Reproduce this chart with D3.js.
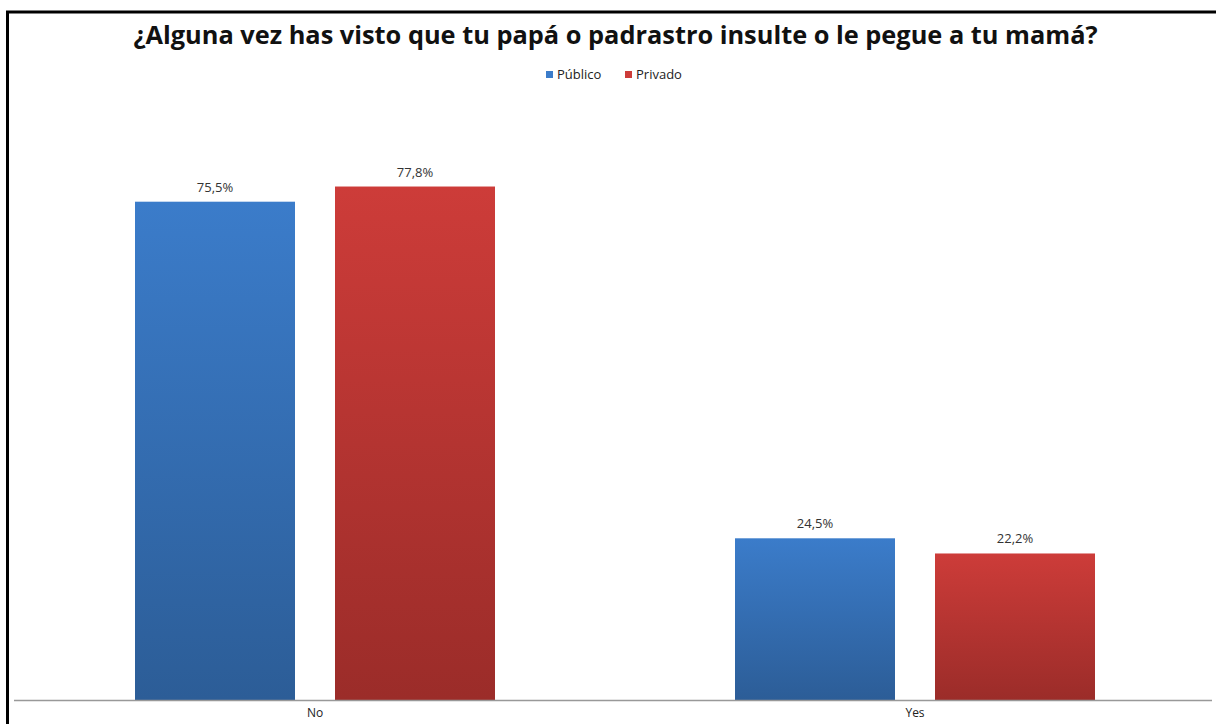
<!DOCTYPE html>
<html lang="es">
<head>
  <meta charset="UTF-8">
  <title>Bar Chart</title>
  <script src="https://d3js.org/d3.v7.min.js"></script>
  <style>
    body { margin: 0; background: #fff; }
    text { font-family: "Open Sans", "Noto Sans", sans-serif; }
  </style>
</head>
<body>
<div class="main"></div>
<script>
  // chart data
  var title = "¿Alguna vez has visto que tu papá o padrastro insulte o le pegue a tu mamá?";
  var categories = ["No", "Yes"];
  var seriesNames = ["Público", "Privado"];
  var publico = [75.5, 24.5];
  var privado = [77.8, 22.2];
  var valueLabels = [["75,5%", "77,8%"], ["24,5%", "22,2%"]];

  let width = 1216;
  let height = 724;
  let svg = d3.select(".main").append("svg").attr("width", width).attr("height", height).style("display", "block");

  var defs = svg.append("defs");
  var gradColors = [["#3b7cca", "#2c5d97"], ["#cd3c39", "#9b2c29"]];
  gradColors.forEach(function(c, i) {
    var g = defs.append("linearGradient").attr("id", "grad" + i).attr("x1", 0).attr("y1", 0).attr("x2", 0).attr("y2", 1);
    g.append("stop").attr("offset", "0%").attr("stop-color", c[0]);
    g.append("stop").attr("offset", "100%").attr("stop-color", c[1]);
  });

  // outer frame (only left and top visible)
  svg.append("rect").attr("x", 7.5).attr("y", 12).attr("width", 1300).attr("height", 800)
    .style("fill", "none").style("stroke", "#000").style("stroke-width", 3);

  // scales
  var x0 = d3.scaleBand().domain(categories).range([15, 1215]).padding(0);
  var x1 = d3.scaleBand().domain(seriesNames).range([120, 480]).paddingInner(0.2).paddingOuter(0);
  var y = d3.scaleLinear().domain([0, 80]).range([700, 172]);

  var rows = categories.map(function(c, i) { return {cat: c, values: [publico[i], privado[i]], labels: valueLabels[i]}; });

  var groups = svg.selectAll(".grp").data(rows).enter().append("g")
    .attr("transform", function(d) { return "translate(" + x0(d.cat) + ",0)"; });

  groups.selectAll("rect").data(function(d) { return d.values.map(function(v, j) { return {v: v, j: j}; }); })
    .enter().append("rect")
    .attr("x", function(d) { return x1(seriesNames[d.j]); })
    .attr("y", function(d) { return y(d.v); })
    .attr("width", x1.bandwidth())
    .attr("height", function(d) { return y(0) - y(d.v); })
    .style("fill", function(d) { return "url(#grad" + d.j + ")"; });

  groups.selectAll(".vlab").data(function(d) { return d.values.map(function(v, j) { return {v: v, j: j, t: d.labels[j]}; }); })
    .enter().append("text")
    .attr("x", function(d) { return x1(seriesNames[d.j]) + x1.bandwidth() / 2; })
    .attr("y", function(d) { return y(d.v) - 10; })
    .attr("text-anchor", "middle")
    .style("font-size", "13px").style("fill", "#333")
    .text(function(d) { return d.t; });

  // baseline
  svg.append("line").attr("x1", 14).attr("x2", 1212).attr("y1", y(0) + 0.5).attr("y2", y(0) + 0.5)
    .style("stroke", "#999").style("stroke-width", 1.5);

  // category labels
  var xAxis = d3.axisBottom(x0).tickSize(0).tickPadding(8);
  var ax = svg.append("g").attr("transform", "translate(0," + y(0) + ")").call(xAxis);
  ax.select(".domain").remove();
  ax.selectAll("text").style("font-size", "12px").style("fill", "#222").style("font-family", "\"Open Sans\", sans-serif");

  // title
  var t = svg.append("text").attr("x", 615.5).attr("y", 44).attr("text-anchor", "middle")
    .style("font-weight", "bold").style("font-size", "20px").style("fill", "#111").text(title);
  var w = t.node().getComputedTextLength();
  t.style("font-size", (20 * 965 / w) + "px");

  // legend
  var legX = [546, 625];
  var leg = svg.selectAll(".leg").data(seriesNames).enter().append("g")
    .attr("transform", function(d, i) { return "translate(" + legX[i] + ",71)"; });
  leg.append("rect").attr("width", 7).attr("height", 7).style("fill", function(d, i) { return gradColors[i][0]; });
  leg.append("text").attr("x", 11).attr("y", 8).style("font-size", "13px").style("fill", "#222").text(function(d) { return d; });
</script>
</body>
</html>
